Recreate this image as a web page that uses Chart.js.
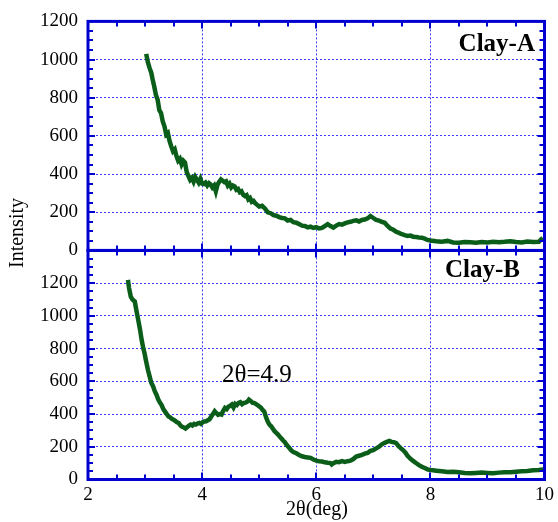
<!DOCTYPE html>
<html>
<head>
<meta charset="utf-8">
<script src="https://cdn.jsdelivr.net/npm/chart.js@4"></script>
<style>
  html, body { margin: 0; padding: 0; background: #fff; }
  #wrap { width: 558px; height: 522px; }
</style>
</head>
<body>
<div id="wrap"><canvas id="c" width="558" height="522"></canvas></div>
<script>
// ---- data ----
const xTicks = [2, 4, 6, 8, 10];
const yTicksA = [0, 200, 400, 600, 800, 1000, 1200];
const yTicksB = [0, 200, 400, 600, 800, 1000, 1200];

const xA = [3.02,3.05,3.08,3.11,3.13,3.16,3.19,3.22,3.25,3.28,3.31,3.34,3.37,3.40,3.43,3.46,3.49,3.52,3.55,3.58,3.61,3.64,3.67,3.70,3.73,3.76,3.79,3.82,3.85,3.88,3.91,3.94,3.97,4.00,4.03,4.06,4.09,4.12,4.15,4.18,4.21,4.24,4.27,4.30,4.33,4.36,4.39,4.42,4.45,4.48,4.51,4.54,4.57,4.60,4.63,4.66,4.69,4.72,4.75,4.78,4.81,4.84,4.87,4.90,4.93,4.96,5.00,5.05,5.10,5.15,5.20,5.25,5.30,5.35,5.40,5.45,5.50,5.55,5.60,5.65,5.70,5.75,5.80,5.85,5.90,5.95,6.00,6.05,6.10,6.15,6.20,6.25,6.30,6.35,6.40,6.45,6.50,6.55,6.60,6.65,6.70,6.75,6.80,6.85,6.90,6.95,7.00,7.05,7.10,7.15,7.20,7.25,7.30,7.35,7.40,7.45,7.50,7.55,7.60,7.65,7.70,7.75,7.80,7.85,7.90,7.95,8.00,8.10,8.20,8.30,8.40,8.50,8.60,8.70,8.80,8.90,9.00,9.10,9.20,9.30,9.40,9.50,9.60,9.70,9.80,9.90,9.97];
const clayA = [1030,985,955,930,900,860,815,790,735,720,676,650,607,615,572,545,520,530,494,470,480,451,470,460,410,390,370,380,360,385,370,355,375,350,348,355,340,352,345,330,340,310,345,360,372,365,358,362,340,350,330,340,335,318,322,305,310,292,285,290,268,275,255,260,248,240,230,234,220,200,195,185,182,175,170,168,157,160,148,145,138,130,128,121,125,118,122,115,118,128,138,128,120,130,138,135,142,147,150,155,158,152,160,162,168,180,170,160,156,150,145,128,115,108,98,92,85,80,76,78,72,70,68,67,62,55,52,48,46,50,42,40,44,43,40,44,42,46,43,45,48,44,42,47,44,45,66];

const xB = [2.70,2.72,2.75,2.78,2.82,2.85,2.88,2.91,2.94,2.97,2.99,3.02,3.05,3.08,3.11,3.14,3.17,3.20,3.23,3.26,3.29,3.32,3.35,3.38,3.41,3.44,3.47,3.50,3.53,3.56,3.59,3.62,3.65,3.68,3.71,3.74,3.77,3.80,3.83,3.86,3.89,3.92,3.95,3.98,4.01,4.04,4.07,4.10,4.13,4.16,4.19,4.22,4.25,4.28,4.31,4.34,4.37,4.40,4.43,4.46,4.49,4.52,4.55,4.58,4.61,4.64,4.67,4.70,4.73,4.76,4.79,4.82,4.85,4.88,4.91,4.94,4.97,5.00,5.03,5.06,5.09,5.12,5.15,5.18,5.21,5.24,5.27,5.30,5.33,5.36,5.39,5.42,5.45,5.48,5.51,5.54,5.57,5.60,5.65,5.70,5.75,5.80,5.85,5.90,5.95,6.00,6.05,6.10,6.15,6.20,6.25,6.27,6.30,6.35,6.40,6.45,6.50,6.55,6.60,6.65,6.70,6.75,6.80,6.85,6.90,6.95,7.00,7.05,7.10,7.15,7.20,7.25,7.28,7.32,7.36,7.40,7.44,7.48,7.52,7.56,7.60,7.64,7.68,7.72,7.76,7.80,7.85,7.90,7.95,8.00,8.05,8.10,8.20,8.30,8.40,8.50,8.60,8.70,8.80,8.90,9.00,9.10,9.20,9.30,9.40,9.50,9.60,9.70,9.80,9.90,9.98];
const clayB = [1220,1170,1118,1100,1088,1030,976,920,854,800,773,720,671,630,590,570,540,518,490,470,455,430,415,400,385,380,370,365,358,350,345,330,322,318,312,320,330,336,330,340,336,342,346,340,350,355,356,362,368,385,400,417,405,395,400,397,420,437,430,445,450,458,440,462,455,468,472,460,468,470,475,488,480,470,468,462,455,447,440,425,415,380,355,335,325,310,295,285,275,262,250,238,228,212,200,188,175,168,160,150,142,138,135,132,122,115,112,110,105,102,100,92,100,108,106,112,108,112,115,125,140,145,150,158,163,175,180,190,200,215,224,232,236,230,228,222,205,192,180,165,145,130,118,108,98,88,78,70,62,58,56,54,50,46,48,44,40,38,40,42,40,38,42,44,45,48,50,52,56,58,62];

// ---- chart ----
Chart.defaults.font.family = "'Liberation Serif', 'DejaVu Serif', serif";
Chart.defaults.color = '#000';

const GRID = 'rgba(40,40,255,0.9)';
const FRAME = '#0000d0';
const GREEN = '#0b5e1a';

function fixedWidth(w) { return function (s) { s.width = w; }; }

const framePlugin = {
  id: 'framePlugin',
  afterDraw(chart) {
    const ctx = chart.ctx;
    const x = chart.scales.x;
    const panels = [chart.scales.yA, chart.scales.yB];
    ctx.save();
    ctx.strokeStyle = FRAME;
    ctx.fillStyle = FRAME;
    ctx.lineWidth = 2;
    for (const p of panels) {
      for (let i = 0; i <= 16; i++) {
        const v = 2 + i * 0.5;
        const px = Math.round(x.getPixelForValue(v));
        const len = (i % 4 === 0) ? 7 : 5;
        ctx.beginPath();
        ctx.moveTo(px, p.top); ctx.lineTo(px, p.top + len);
        ctx.moveTo(px, p.bottom); ctx.lineTo(px, p.bottom - len);
        ctx.stroke();
      }
      for (let v = 0; v <= p.max; v += 50) {
        const py = Math.round(p.getPixelForValue(v));
        const len = (v % 200 === 0) ? 7 : 5;
        ctx.beginPath();
        ctx.moveTo(x.left, py); ctx.lineTo(x.left + len, py);
        ctx.moveTo(x.right, py); ctx.lineTo(x.right - len, py);
        ctx.stroke();
      }
    }
    ctx.lineWidth = 3;
    for (const p of panels) {
      ctx.strokeRect(x.left, p.top, x.right - x.left, p.bottom - p.top);
    }
    ctx.fillStyle = '#000';
    ctx.textBaseline = 'alphabetic';
    ctx.font = "bold 25px 'Liberation Serif'";
    ctx.textAlign = 'right';
    ctx.fillText('Clay-A', 535, 51);
    ctx.fillText('Clay-B', 520, 277);
    ctx.font = "25px 'Liberation Serif'";
    ctx.textAlign = 'left';
    ctx.fillText('2θ=4.9', 222, 382);
    ctx.font = "20px 'Liberation Serif'";
    ctx.textAlign = 'center';
    ctx.textBaseline = 'middle';
    ctx.fillText('2θ(deg)', 317, 510);
    ctx.save();
    ctx.translate(18, 233);
    ctx.rotate(-Math.PI / 2);
    ctx.fillText('Intensity', 0, 0);
    ctx.restore();
    ctx.restore();
  }
};

const yCommon = (max, ticks) => ({
  type: 'linear',
  position: 'left',
  stack: 'panels',
  stackWeight: 1,
  min: 0,
  max: max,
  afterFit: fixedWidth(88),
  afterBuildTicks(s) { s.ticks = ticks.map(v => ({ value: v })); },
  ticks: { font: { size: 19 }, padding: 10, color: '#000', autoSkip: false,
           callback: v => String(v) },
  grid: { color: GRID, lineWidth: 1, drawTicks: false },
  border: { display: false, dash: [2, 2] }
});

new Chart(document.getElementById('c'), {
  type: 'line',
  data: {
    datasets: [
      { label: 'Clay-A', yAxisID: 'yA', data: xA.map((v, i) => ({ x: v, y: clayA[i] })),
        borderColor: GREEN, borderWidth: 4.5, pointRadius: 0, fill: false, tension: 0 },
      { label: 'Clay-B', yAxisID: 'yB', data: xB.map((v, i) => ({ x: v, y: clayB[i] })),
        borderColor: GREEN, borderWidth: 4.5, pointRadius: 0, fill: false, tension: 0 }
    ]
  },
  options: {
    responsive: false,
    animation: false,
    layout: { padding: { top: 20, right: 10, left: 0, bottom: 0 } },
    plugins: { legend: { display: false }, tooltip: { enabled: false } },
    scales: {
      x: {
        type: 'linear', position: 'bottom', min: 2, max: 10,
        afterBuildTicks(s) { s.ticks = xTicks.map(v => ({ value: v })); },
        afterFit(s) { s.height = 42.5; },
        ticks: { font: { size: 19 }, padding: 4, color: '#000', autoSkip: false,
                 callback: v => String(v) },
        grid: { color: GRID, lineWidth: 1, drawTicks: false },
        border: { display: false, dash: [2, 2] }
      },
      yB: yCommon(1400, yTicksB),
      yA: yCommon(1200, yTicksA)
    }
  },
  plugins: [framePlugin]
});
</script>
</body>
</html>
